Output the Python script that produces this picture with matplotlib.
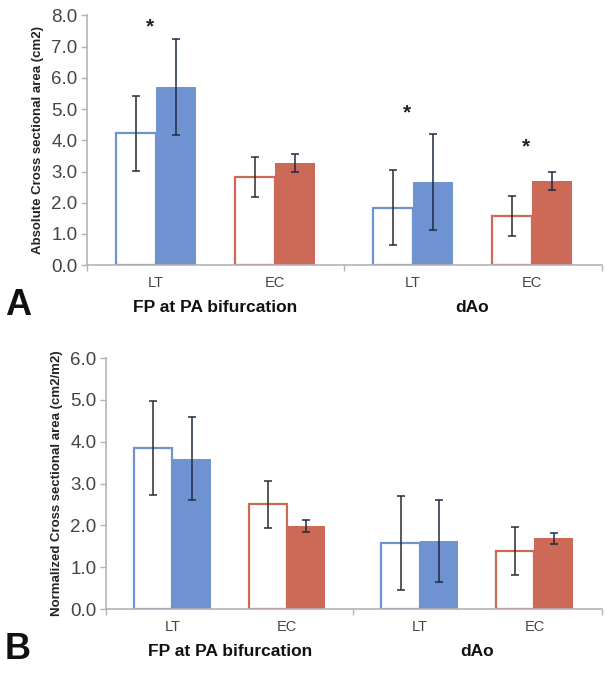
import numpy as np
import matplotlib
matplotlib.use('Agg')
import matplotlib.pyplot as plt

plt.rcParams['font.family'] = ['Liberation Sans', 'DejaVu Sans']

# categorias e grupos
categorias = ['LT', 'EC', 'LT', 'EC']
grupos = ['FP at PA bifurcation', 'dAo']

# painel A - área absoluta (cm2): barra vazada / barra cheia
a_vazada = [4.22, 2.83, 1.84, 1.56]
a_vazada_err = [1.19, 0.64, 1.20, 0.64]
a_cheia = [5.71, 3.28, 2.67, 2.70]
a_cheia_err = [1.53, 0.28, 1.53, 0.30]
a_asterisco = [7.62, None, 4.88, 3.80]

# painel B - área normalizada (cm2/m2)
b_vazada = [3.85, 2.50, 1.58, 1.38]
b_vazada_err = [1.12, 0.57, 1.13, 0.57]
b_cheia = [3.59, 1.98, 1.63, 1.69]
b_cheia_err = [0.99, 0.14, 0.98, 0.14]

azul = '#6f93d0'
vermelho = '#cd6a57'
cores = [azul, vermelho, azul, vermelho]
cinza_eixo = '#b4b4b4'
cor_texto = '#444444'

# posições das categorias (espaço extra entre os grupos)
xpos = np.array([0, 1, 2.16, 3.16])
largura = 0.335
xlim = (-0.58, 3.75)
separadores = [xlim[0], 1.58, xlim[1]]

fig = plt.figure(figsize=(6.13, 6.73), dpi=100)


def painel(rect, vazada, vazada_err, cheia, cheia_err, ymax, ylabel, letra, asteriscos=None):
    ax = fig.add_axes(rect)
    ax.bar(xpos - largura / 2, vazada, largura, color='white',
           edgecolor=cores, linewidth=1.6, zorder=2)
    ax.bar(xpos + largura / 2, cheia, largura, color=cores, linewidth=0, zorder=2)
    ax.errorbar(xpos - largura / 2, vazada, yerr=vazada_err, fmt='none',
                ecolor='#2b2b2b', elinewidth=1.1, capsize=3, capthick=1.1, zorder=3)
    ax.errorbar(xpos + largura / 2, cheia, yerr=cheia_err, fmt='none',
                ecolor='#1f2a44', elinewidth=1.1, capsize=3, capthick=1.1, zorder=3)
    if asteriscos:
        for x, y in zip(xpos, asteriscos):
            if y is not None:
                ax.text(x - 0.05, y, '*', ha='center', va='center',
                        fontsize=15, fontweight='bold', color='#222222')

    ax.set_xlim(*xlim)
    ax.set_ylim(0, ymax)
    ax.set_yticks(np.arange(0, ymax + 0.01, 1.0))
    ax.set_yticklabels([f'{v:.1f}' for v in np.arange(0, ymax + 0.01, 1.0)])
    ax.set_xticks(separadores)
    ax.set_xticklabels([])
    ax.tick_params(axis='y', labelsize=13.5, labelcolor=cor_texto, color=cinza_eixo,
                   length=4, width=1, pad=3)
    ax.tick_params(axis='x', color=cinza_eixo, length=4, width=1)
    for lado in ['top', 'right']:
        ax.spines[lado].set_visible(False)
    for lado in ['left', 'bottom']:
        ax.spines[lado].set_color(cinza_eixo)
        ax.spines[lado].set_linewidth(1.2)

    ax.set_ylabel(ylabel, fontsize=9.5, fontweight='bold', color='#222222', labelpad=5)

    trans = ax.get_xaxis_transform()
    for x, c in zip(xpos, categorias):
        ax.text(x, -0.07, c, transform=trans, ha='center', va='center',
                fontsize=10.5, color=cor_texto)
    for x, g in zip([xpos[:2].mean(), xpos[2:].mean()], grupos):
        ax.text(x, -0.17, g, transform=trans, ha='center', va='center',
                fontsize=12.5, fontweight='bold', color='#111111')
    fig.text(0.008, rect[1] - 0.06, letra, fontsize=26, fontweight='bold',
             color='#111111', ha='left', va='center')
    return ax


painel([0.142, 0.606, 0.840, 0.371], a_vazada, a_vazada_err, a_cheia, a_cheia_err,
       8.0, 'Absolute Cross sectional area (cm2)', 'A', a_asterisco)
painel([0.173, 0.095, 0.809, 0.373], b_vazada, b_vazada_err, b_cheia, b_cheia_err,
       6.0, 'Normalized Cross sectional area (cm2/m2)', 'B')

fig.savefig('out.png', dpi=100)
